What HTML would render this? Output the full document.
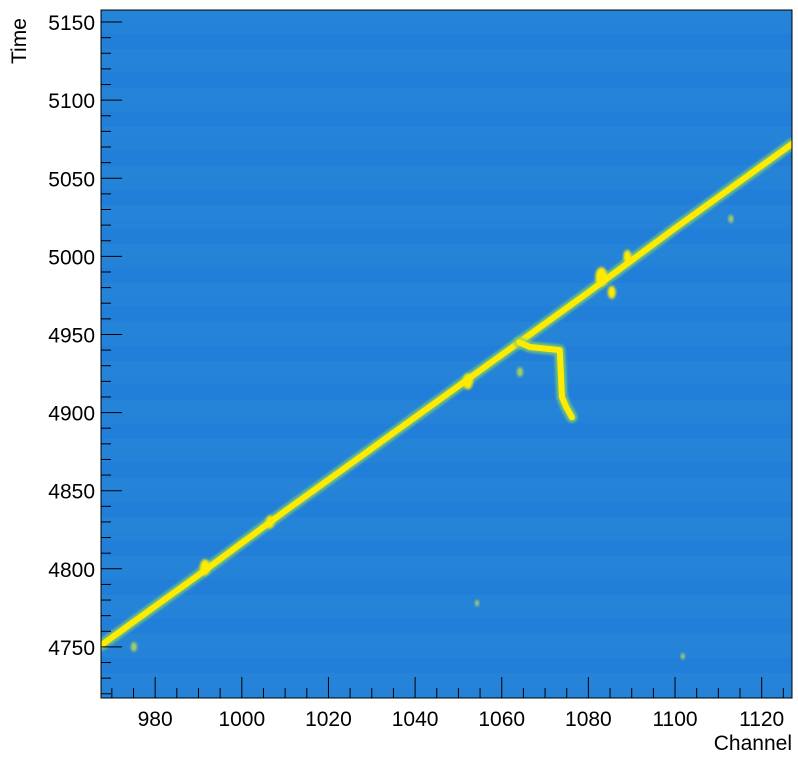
<!DOCTYPE html>
<html><head><meta charset="utf-8"><style>
body{margin:0;background:#fff;}
svg{display:block;font-family:"Liberation Sans",sans-serif;}
</style></head><body>
<svg id="chart" width="798" height="776">
<defs>
<filter id="blur" x="-20%" y="-20%" width="140%" height="140%"><feGaussianBlur stdDeviation="1.2"/></filter>
<clipPath id="clip"><rect x="101" y="10" width="691" height="688"/></clipPath>
</defs>
<rect x="101" y="10" width="691" height="688" fill="#2381d8"/>
<g id="stripes" clip-path="url(#clip)"></g>
<g id="marks" clip-path="url(#clip)"></g>
<g id="axes"></g>
<text x="792" y="750" text-anchor="end" font-size="21" fill="#000">Channel</text>
<text x="0" y="0" transform="translate(26,64) rotate(-90)" font-size="21" fill="#000">Time</text>
</svg>
<script>
const trackChannel=[967.5,990,1010,1030,1050,1064,1080,1100,1127];
const trackTime=[4751,4796,4837,4877,4917,4945,4977,5018,5072];
const hookChannel=[1064,1066.5,1073.4,1073.9,1074.8,1076.2];
const hookTime=[4945,4942,4940,4910,4904,4897];
const blobChannel=[991.5,1006.5,1052.2,1064.2,1083,1085.4,1089,1112.9,975.1,1101.8,1054.3];
const blobTime=[4801,4830,4920,4926,4987,4977,5000,5024,4750,4744,4778];
const blobSize=[5,4,5,3,6,4,4,2.5,3,2,2];
const xTicks=[980,1000,1020,1040,1060,1080,1100,1120];
const yTicks=[4750,4800,4850,4900,4950,5000,5050,5100,5150];
const X0=967.5,X1=1127,T0=4717.3,T1=5157.7;
const L=101,R=792,TOP=10,B=698;
const sx=c=>L+(c-X0)/(X1-X0)*(R-L);
const sy=t=>B-(t-T0)/(T1-T0)*(B-TOP);
const NS='http://www.w3.org/2000/svg';
function mk(tag,attrs,parent){const e=document.createElementNS(NS,tag);for(const k in attrs)e.setAttribute(k,attrs[k]);parent.appendChild(e);return e;}
const stripes=document.getElementById('stripes');
const sCols=['#2a8ad6','#1c78db','#2c8fd4','#1f7ddb','#2787d7'];
for(let i=0;i<88;i++){const r=mk('rect',{x:L,y:TOP+i*7.8,width:R-L,height:7.8,fill:sCols[(i*7)%5],opacity:0.25},stripes);

}
const marks=document.getElementById('marks');
function line(cs,ts,name){
 const pts=cs.map((c,i)=>sx(c)+','+sy(ts[i])).join(' ');
 const g=mk('polyline',{points:pts,fill:'none',stroke:'#7fcf70','stroke-width':11,'stroke-linejoin':'round','stroke-linecap':'round',filter:'url(#blur)',opacity:0.8},marks);
 
 
 const p=mk('polyline',{points:pts,fill:'none',stroke:'#ffeb00','stroke-width':6,'stroke-linejoin':'round','stroke-linecap':'round'},marks);
 
 
}
line(trackChannel,trackTime,'main-track');
line(hookChannel,hookTime,'hook-track');
blobChannel.forEach((c,i)=>{
 const e=mk('ellipse',{cx:sx(c),cy:sy(blobTime[i]),rx:blobSize[i],ry:blobSize[i]*1.6,fill:blobSize[i]>3?'#ffeb00':'#a8d060',filter:'url(#blur)'},marks);
 
 
});
const axes=document.getElementById('axes');
const fr=mk('rect',{x:L,y:TOP,width:R-L,height:B-TOP,fill:'none',stroke:'#000','stroke-width':1},axes);


for(let c=970;c<=1125;c+=5){const x=sx(c);const maj=c%20===0;
 const t=mk('line',{x1:x,x2:x,y1:B,y2:B-(maj?21:10),stroke:'#000'},axes);
 
 }
xTicks.forEach(v=>{const t=mk('text',{x:sx(v),y:726,'text-anchor':'middle','font-size':21},axes);t.textContent=v;
 
 });
for(let v=4720;v<=5150;v+=10){const y=sy(v);const maj=v%50===0;
 const t=mk('line',{x1:L,x2:L+(maj?21:10),y1:y,y2:y,stroke:'#000'},axes);
 
 }
yTicks.forEach(v=>{const t=mk('text',{x:95,y:sy(v)+8,'text-anchor':'end','font-size':21},axes);t.textContent=v;
 
 });
</script>
</body></html>
